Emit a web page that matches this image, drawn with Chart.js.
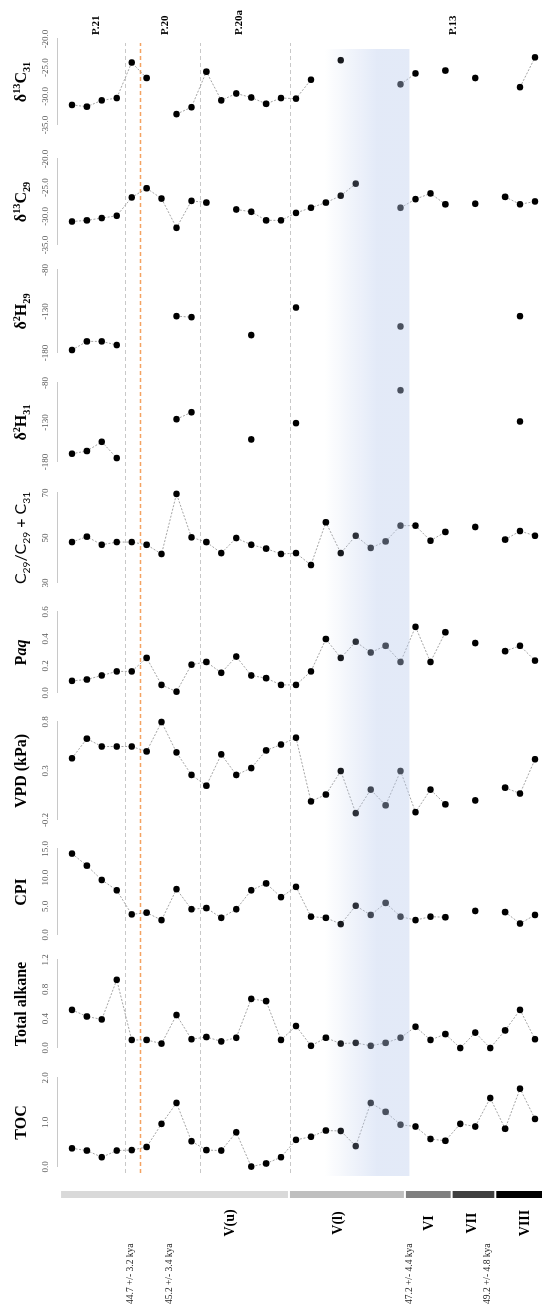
<!DOCTYPE html>
<html>
<head>
<meta charset="utf-8">
<script src="https://cdn.jsdelivr.net/npm/chart.js@4.4.1/dist/chart.umd.min.js"></script>
<style>
  html, body { margin: 0; padding: 0; background: #fff; }
  body { width: 542px; height: 1309px; overflow: hidden; position: relative; }
  /* the profile is laid out landscape (depth downwards) and turned a quarter turn */
  #fig { position: absolute; left: 0; top: 0; width: 1309px; height: 542px;
         transform-origin: 0 0; transform: translate(0, 1309px) rotate(-90deg); }
  #fig canvas { position: absolute; top: 0; }
</style>
</head>
<body>
<div id="fig"></div>
<script>
// ---- samples, top of the section first ----
const SAMPLES = [0,1,2,3,4,5,6,7,8,9,10,11,12,13,14,15,16,17,18,19,20,21,22,23,24,25,26,27,28,29,30,31];

// ---- measured series (null = not measured) ----
const TOC = [0.42,0.37,0.22,0.37,0.38,0.45,0.97,1.44,0.58,0.38,0.37,0.78,0.01,0.08,0.22,0.61,
             0.68,0.82,0.81,0.47,1.44,1.24,0.95,0.91,0.63,0.59,0.97,0.91,1.55,0.86,1.76,1.08];
const TOTAL_ALKANE = [0.52,0.43,0.39,0.93,0.11,0.11,0.06,0.45,0.12,0.15,0.09,0.14,0.67,0.64,0.11,0.30,
                      0.03,0.14,0.06,0.07,0.03,0.07,0.14,0.29,0.11,0.19,0.00,0.21,0.00,0.24,0.52,0.12];
const CPI = [14.2,12.1,9.6,7.8,3.6,3.9,2.6,8.0,4.5,4.7,3.0,4.5,7.8,9.0,6.6,8.4,
             3.2,3.0,1.9,5.1,3.5,5.6,3.2,2.6,3.2,3.1,null,4.2,null,4.0,2.0,3.5];
const VPD = [0.43,0.63,0.55,0.55,0.55,0.50,0.80,0.49,0.26,0.15,0.47,0.26,0.33,0.51,0.57,0.64,
             -0.01,0.06,0.30,-0.13,0.11,-0.05,0.30,-0.12,0.11,-0.04,null,0.00,null,0.13,0.07,0.42];
const PAQ = [0.09,0.10,0.13,0.16,0.16,0.26,0.06,0.01,0.21,0.23,0.15,0.27,0.13,0.11,0.06,0.06,
             0.16,0.40,0.26,0.38,0.30,0.35,0.23,0.49,0.23,0.45,null,0.37,null,0.31,0.35,0.24];
const C29_RATIO = [48.2,50.6,47.0,48.2,48.2,47.0,42.9,69.6,50.3,48.2,43.3,50.0,47.0,45.3,42.9,43.3,
                   38.0,57.0,43.3,51.0,45.6,48.5,55.5,55.5,48.8,52.7,null,54.9,null,49.3,53.1,51.0];
const D2H_C31 = [-169.5,-166.1,-154.4,-175.0,null,null,null,-125.8,-117.0,null,null,null,-151.4,null,null,-130.8,
                 null,null,null,null,null,null,-89.2,null,null,null,null,null,null,null,-128.7,null];
const D2H_C29 = [-176.4,-166.0,-166.0,-170.4,null,null,null,-135.6,-136.8,null,null,null,-158.4,null,null,-125.2,
                 null,null,null,null,null,null,-148.0,null,null,null,null,null,null,null,-135.6,null];
const D13C_C29 = [-30.9,-30.7,-30.3,-29.9,-26.7,-25.1,-26.9,-32.0,-27.3,-27.6,null,-28.8,-29.2,-30.7,-30.7,-29.4,
                  -28.5,-27.6,-26.4,-24.3,null,null,-28.5,-27.0,-26.0,-27.9,null,-27.8,null,-26.6,-27.9,-27.4];
const D13C_C31 = [-31.5,-31.8,-30.7,-30.3,-24.1,-26.8,null,-33.1,-31.9,-25.7,-30.7,-29.5,-30.2,-31.3,-30.3,-30.4,
                  -27.1,null,-23.7,null,null,null,-27.9,-26.0,null,-25.5,null,-26.8,null,null,-28.4,-23.2];

// ---- axis tick labels ----
const TOC_TICKS = ['0.0','1.0','2.0'];
const ALKANE_TICKS = ['0.0','0.4','0.8','1.2'];
const CPI_TICKS = ['0.0','5.0','10.0','15.0'];
const VPD_TICKS = ['-0.2','0.3','0.8'];
const PAQ_TICKS = ['0.0','0.2','0.4','0.6'];
const RATIO_TICKS = ['30','50','70'];
const D2H_TICKS = ['-180','-130','-80'];
const D13C_TICKS = ['-35.0','-30.0','-25.0','-20.0'];

// ---- stratigraphy and annotations (positions in sample units) ----
const UNIT_NAMES = ['V(u)','V(l)','VI','VII','VIII'];
const UNIT_BOUNDS = [-0.73, 14.4, 22.1, 25.2, 28.1, 31.2];
const UNIT_LABEL_AT = [10.5, 17.7, 23.7, 26.6, 30.1];
const UNIT_COLORS = ['#d9d9d9','#bfbfbf','#7f7f7f','#404040','#000000'];
const DATES = ['44.7 +/- 3.2 kya','45.2 +/- 3.4 kya','47.2 +/- 4.4 kya','49.2 +/- 4.8 kya'];
const DATE_AT = [3.9, 6.5, 22.4, 27.6];
const PROFILES = ['P.21','P.20','P.20a','P.13'];
const PROFILE_AT = [1.63, 6.2, 11.1, 25.3];
const GREY_BREAKS = [3.5, 8.5, 14.5];
const ORANGE_BREAKS = [4.5];
const BAND = [16.8, 20.2, 22.4];   // fade start, full tint, end

// ---- layout of the landscape frame (px) ----
const FIG_W = 1309, FIG_H = 542;
const AXIS_TOP = 57;                 // top of the plotting strip
const SAMPLE_MIN = -1, SAMPLE_MAX = 31.2;
const SERIF = "'Liberation Serif', 'Times New Roman', serif";
const SANS = "Lato, 'Open Sans', sans-serif";

const panels = [
  {values: TOC,          ticks: TOC_TICKS,    lo: 142,   hi: 230.5, title: [{t:'TOC'}]},
  {values: TOTAL_ALKANE, ticks: ALKANE_TICKS, lo: 261.3, hi: 349,   title: [{t:'Total alkane'}]},
  {values: CPI,          ticks: CPI_TICKS,    lo: 374,   hi: 460,   title: [{t:'CPI'}]},
  {values: VPD,          ticks: VPD_TICKS,    lo: 489,   hi: 587.3, title: [{t:'VPD (kPa)'}]},
  {values: PAQ,          ticks: PAQ_TICKS,    lo: 615.7, hi: 696.7, title: [{t:'P'},{t:'aq', it:true}]},
  {values: C29_RATIO,    ticks: RATIO_TICKS,  lo: 725.7, hi: 815.7, sans: true,
   title: [{t:'C'},{t:'29', sub:true},{t:'/C'},{t:'29', sub:true},{t:' + C'},{t:'31', sub:true}]},
  {values: D2H_C31,      ticks: D2H_TICKS,    lo: 847,   hi: 926.3, title: [{t:'δ'},{t:'2', sup:true},{t:'H'},{t:'31', sub:true}]},
  {values: D2H_C29,      ticks: D2H_TICKS,    lo: 955.7, hi: 1039,  title: [{t:'δ'},{t:'2', sup:true},{t:'H'},{t:'29', sub:true}]},
  {values: D13C_C29,     ticks: D13C_TICKS,   lo: 1064,  hi: 1149.7,title: [{t:'δ'},{t:'13', sup:true},{t:'C'},{t:'29', sub:true}]},
  {values: D13C_C31,     ticks: D13C_TICKS,   lo: 1184,  hi: 1269.7,title: [{t:'δ'},{t:'13', sup:true},{t:'C'},{t:'31', sub:true}]},
];

// axis title with sub/superscripts, centred over the value axis
const richTitle = {
  id: 'richTitle',
  afterDraw(chart, args, o) {
    if (!o.parts) return;
    const ctx = chart.ctx, sc = chart.scales.x;
    const fontOf = p => {
      const sz = (p.sup || p.sub) ? o.size * 0.64 : o.size;
      return (p.it ? 'italic ' : '') + o.weight + ' ' + sz + 'px ' + o.family;
    };
    let w = 0;
    o.parts.forEach(p => { ctx.font = fontOf(p); w += ctx.measureText(p.t).width; });
    let x = (sc.left + sc.right) / 2 - w / 2;
    ctx.save();
    ctx.fillStyle = o.color;
    ctx.textAlign = 'left';
    ctx.textBaseline = 'alphabetic';
    o.parts.forEach(p => {
      ctx.font = fontOf(p);
      const dy = p.sup ? -o.size * 0.36 : (p.sub ? o.size * 0.22 : 0);
      ctx.fillText(p.t, x, o.baseline + dy);
      x += ctx.measureText(p.t).width;
    });
    ctx.restore();
  }
};

const fig = document.getElementById('fig');
function addCanvas(left, width) {
  const c = document.createElement('canvas');
  c.width = width; c.height = FIG_H;
  c.style.left = left + 'px';
  c.style.width = width + 'px';
  c.style.height = FIG_H + 'px';
  fig.appendChild(c);
  return c;
}
const sampleScale = {type: 'linear', display: false, reverse: true, min: SAMPLE_MIN, max: SAMPLE_MAX};

// ---- frame: breaks, stratigraphic column and labels ----
const frameDraw = {
  id: 'frameDraw',
  afterDraw(chart) {
    const ctx = chart.ctx, xs = chart.scales.x, ys = chart.scales.y;
    ctx.save();
    const line = (idx, color, w) => {
      const v = Math.round(ys.getPixelForValue(idx)) + 0.5;
      ctx.strokeStyle = color; ctx.lineWidth = w; ctx.setLineDash([4, 3]);
      ctx.beginPath(); ctx.moveTo(xs.getPixelForValue(136), v); ctx.lineTo(xs.getPixelForValue(1266), v); ctx.stroke();
    };
    GREY_BREAKS.forEach(i => line(i, '#c8c8c8', 1));
    ORANGE_BREAKS.forEach(i => line(i, '#f4a261', 1.3));
    ctx.setLineDash([]);
    // stratigraphic column
    const u0 = xs.getPixelForValue(111), u1 = xs.getPixelForValue(118);
    UNIT_NAMES.forEach((n, k) => {
      const a = ys.getPixelForValue(UNIT_BOUNDS[k]) + (k ? 1 : 0);
      const b = ys.getPixelForValue(UNIT_BOUNDS[k + 1]) - (k < UNIT_NAMES.length - 1 ? 1 : 0);
      ctx.fillStyle = UNIT_COLORS[k];
      ctx.fillRect(u0, a, u1 - u0, b - a);
    });
    ctx.fillStyle = '#000';
    ctx.font = 'bold 14px ' + SERIF;
    ctx.textAlign = 'center'; ctx.textBaseline = 'middle';
    UNIT_NAMES.forEach((n, k) => ctx.fillText(n, xs.getPixelForValue(86), ys.getPixelForValue(UNIT_LABEL_AT[k])));
    // ages
    ctx.font = '9.5px ' + SERIF; ctx.fillStyle = '#222';
    ctx.textAlign = 'left';
    DATES.forEach((d, k) => ctx.fillText(d, xs.getPixelForValue(5), ys.getPixelForValue(DATE_AT[k])));
    // profile names
    ctx.font = 'bold 11px ' + SERIF; ctx.fillStyle = '#000';
    PROFILES.forEach((p, k) => ctx.fillText(p, xs.getPixelForValue(1274), ys.getPixelForValue(PROFILE_AT[k])));
    ctx.restore();
  }
};
new Chart(addCanvas(0, FIG_W), {
  type: 'line',
  data: {datasets: []},
  options: {
    responsive: false, animation: false, devicePixelRatio: 1,
    layout: {padding: {top: AXIS_TOP, left: 0, right: 0, bottom: 0}},
    plugins: {legend: {display: false}, tooltip: {enabled: false}},
    scales: {x: {type: 'linear', display: false, min: 0, max: FIG_W}, y: sampleScale}
  },
  plugins: [frameDraw]
});

// ---- one chart per proxy ----
const M = 22;
panels.forEach(p => {
  const left = Math.round(p.lo) - M;
  const width = Math.round(p.hi) - Math.round(p.lo) + 2 * M;
  const tickVals = p.ticks.map(Number);
  new Chart(addCanvas(left, width), {
    type: 'line',
    data: {
      datasets: [{
        data: SAMPLES.map(i => ({x: p.values[i], y: i})),
        borderColor: '#9a9a9a', borderWidth: 0.9, borderDash: [2, 1.6],
        pointRadius: 3.3, pointBackgroundColor: '#000', pointBorderWidth: 0,
        spanGaps: false, clip: false, tension: 0
      }]
    },
    options: {
      responsive: false, animation: false, devicePixelRatio: 1,
      indexAxis: 'y',
      layout: {padding: {left: M, right: M, top: 0, bottom: 0}},
      plugins: {
        legend: {display: false}, tooltip: {enabled: false},
        richTitle: {parts: p.title, size: 16, baseline: 26, color: '#000',
                    family: p.sans ? SANS : SERIF, weight: p.sans ? 'normal' : 'bold'}
      },
      scales: {
        x: {
          type: 'linear', position: 'top',
          min: tickVals[0], max: tickVals[tickVals.length - 1],
          afterBuildTicks: s => { s.ticks = tickVals.map(v => ({value: v})); },
          afterFit: s => { s.height = AXIS_TOP; s.paddingLeft = 0; s.paddingRight = 0; },
          ticks: {autoSkip: false, maxRotation: 0, minRotation: 0, padding: 6,
                  color: '#595959', font: {family: SERIF, size: 9},
                  callback: (v, i) => p.ticks[i]},
          grid: {display: false, drawTicks: false},
          border: {display: true, color: '#c8c8c8', width: 1}
        },
        y: sampleScale
      }
    },
    plugins: [richTitle]
  });
});

// ---- tinted interval, laid over the data ----
const bandDraw = {
  id: 'bandDraw',
  afterDraw(chart) {
    const ctx = chart.ctx, xs = chart.scales.x, ys = chart.scales.y;
    const v0 = ys.getPixelForValue(BAND[0]), v1 = ys.getPixelForValue(BAND[1]), v2 = ys.getPixelForValue(BAND[2]);
    const g = ctx.createLinearGradient(0, v0, 0, v2);
    g.addColorStop(0, 'rgba(185,202,236,0)');
    g.addColorStop((v1 - v0) / (v2 - v0), 'rgba(185,202,236,0.4)');
    g.addColorStop(1, 'rgba(185,202,236,0.4)');
    const a = xs.getPixelForValue(133), b = xs.getPixelForValue(1260);
    ctx.save(); ctx.fillStyle = g; ctx.fillRect(a, v0, b - a, v2 - v0); ctx.restore();
  }
};
const overlay = addCanvas(0, FIG_W);
overlay.style.pointerEvents = 'none';
new Chart(overlay, {
  type: 'line',
  data: {datasets: []},
  options: {
    responsive: false, animation: false, devicePixelRatio: 1, events: [],
    layout: {padding: {top: AXIS_TOP, left: 0, right: 0, bottom: 0}},
    plugins: {legend: {display: false}, tooltip: {enabled: false}},
    scales: {x: {type: 'linear', display: false, min: 0, max: FIG_W}, y: sampleScale}
  },
  plugins: [bandDraw]
});
</script>
</body>
</html>
